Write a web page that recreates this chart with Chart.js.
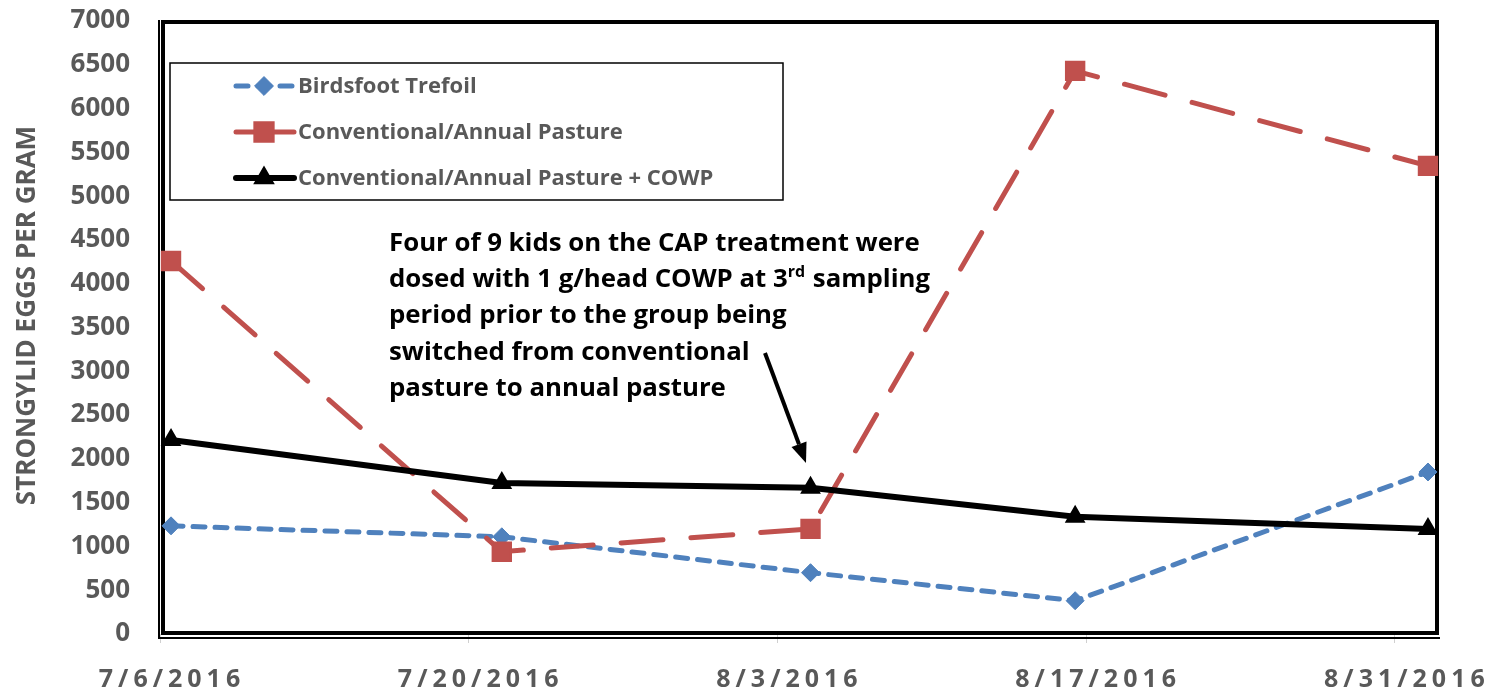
<!DOCTYPE html>
<html><head><meta charset="utf-8">
<script src="https://cdn.jsdelivr.net/npm/chart.js@4/dist/chart.umd.min.js"></script>
<style>html,body{margin:0;padding:0;background:#fff;overflow:hidden}#wrap{width:1492px;height:691px;position:relative}</style>
</head><body><div id="wrap"><canvas id="c" width="1492" height="691"></canvas></div>
<script>
// ---- data ----
const seriesNames = ['Birdsfoot Trefoil', 'Conventional/Annual Pasture', 'Conventional/Annual Pasture + COWP'];
const sampleDates = ['2016-07-06', '2016-07-21', '2016-08-04', '2016-08-16', '2016-09-01'];
const birdsfoot = [1235, 1110, 700, 380, 1850];
const conventional = [4260, 940, 1200, 6430, 5345];
const conventionalCowp = [2215, 1725, 1670, 1340, 1200];
const xTickLabels = ['7/6/2016', '7/20/2016', '8/3/2016', '8/17/2016', '8/31/2016'];
const axisStartDate = '2016-07-06';
const axisDays = 58;
const tickStepDays = 14;
const yTitle = 'STRONGYLID EGGS PER GRAM';
const noteLines = [
  [['Four of 9 kids on the CAP treatment were', false]],
  [['dosed with 1 g/head COWP at 3', false], ['rd', true], [' sampling', false]],
  [['period prior to the group being', false]],
  [['switched from conventional', false]],
  [['pasture to annual pasture', false]]
];

// x position: day offset from axis start, centred in the day
function dayOffset(d) { return (Date.parse(d) - Date.parse(axisStartDate)) / 864e5 + 0.5; }
function pts(vals) { return sampleDates.map((d, i) => ({ x: dayOffset(d), y: vals[i] })); }

const GRAY = '#595959';

const framePlugin = {
  id: 'frame',
  beforeDatasetsDraw(chart) {
    const { ctx, chartArea: a } = chart;
    ctx.save();
    ctx.strokeStyle = '#000';
    ctx.lineWidth = 4;
    ctx.strokeRect(a.left + 3, a.top + 1, a.right - a.left - 5, a.bottom - a.top - 2);
    ctx.lineWidth = 2;
    ctx.beginPath();
    ctx.moveTo(a.left - 1, a.top - 1);
    ctx.lineTo(a.left - 1, a.bottom + 4);
    ctx.lineTo(a.right + 1, a.bottom + 4);
    ctx.stroke();
    ctx.restore();
  }
};

function drawMarker(ctx, ds, x, y, scale) {
  if (Chart.helpers && Chart.helpers.drawPoint) {
    ctx.save();
    ctx.fillStyle = ds.pointBackgroundColor;
    ctx.strokeStyle = ds.pointBorderColor;
    ctx.lineWidth = ds.pointBorderWidth;
    ctx.setLineDash([]);
    Chart.helpers.drawPoint(ctx, { pointStyle: ds.pointStyle, rotation: 0, radius: ds.pointRadius * scale, borderWidth: ds.pointBorderWidth }, x, y);
    ctx.restore();
  }
}

const legendPlugin = {
  id: 'boxLegend',
  afterDatasetsDraw(chart) {
    const { ctx } = chart;
    const box = { x: 170, y: 63, w: 613, h: 137 };
    const rows = [23, 69, 115];
    ctx.save();
    ctx.fillStyle = '#fff';
    ctx.fillRect(box.x, box.y, box.w, box.h);
    ctx.strokeStyle = '#000';
    ctx.lineWidth = 1.5;
    ctx.strokeRect(box.x, box.y, box.w, box.h);
    chart.data.datasets.forEach((ds, i) => {
      const y = box.y + rows[i];
      ctx.save();
      ctx.strokeStyle = ds.borderColor;
      ctx.lineWidth = ds.borderWidth;
      ctx.lineCap = 'round';
      ctx.setLineDash(ds.legendDash || []);
      ctx.beginPath();
      ctx.moveTo(box.x + 66, y);
      ctx.lineTo(box.x + 124, y);
      ctx.stroke();
      ctx.restore();
      drawMarker(ctx, ds, box.x + 94, y, 1.05);
      ctx.fillStyle = GRAY;
      ctx.font = 'bold 22px "Open Sans"';
      ctx.textBaseline = 'middle';
      ctx.textAlign = 'left';
      ctx.fillText(ds.label, box.x + 128, y + 1);
    });
    ctx.restore();
  }
};

const notePlugin = {
  id: 'note',
  afterDatasetsDraw(chart) {
    const { ctx, chartArea: a } = chart;
    const left = a.left + 229, base0 = 251, lh = 36.2;
    ctx.save();
    ctx.fillStyle = '#000';
    ctx.textBaseline = 'alphabetic';
    ctx.textAlign = 'left';
    noteLines.forEach((segs, i) => {
      let x = left;
      const y = base0 + i * lh;
      segs.forEach(([t, sup]) => {
        ctx.font = sup ? 'bold 16px "Open Sans"' : 'bold 25.8px "Open Sans"';
        ctx.fillText(t, x, sup ? y - 10 : y);
        x += ctx.measureText(t).width + (sup ? 1 : 0);
      });
    });
    // arrow
    const x0 = 765, y0 = 353, x1 = 806, y1 = 463;
    const ang = Math.atan2(y1 - y0, x1 - x0);
    const hl = 20, hw = 8;
    ctx.strokeStyle = '#000';
    ctx.lineWidth = 4;
    ctx.beginPath();
    ctx.moveTo(x0, y0);
    ctx.lineTo(x1 - Math.cos(ang) * hl, y1 - Math.sin(ang) * hl);
    ctx.stroke();
    ctx.beginPath();
    ctx.moveTo(x1, y1);
    ctx.lineTo(x1 - Math.cos(ang) * hl - Math.sin(ang) * hw, y1 - Math.sin(ang) * hl + Math.cos(ang) * hw);
    ctx.lineTo(x1 - Math.cos(ang) * hl + Math.sin(ang) * hw, y1 - Math.sin(ang) * hl - Math.cos(ang) * hw);
    ctx.closePath();
    ctx.fillStyle = '#000';
    ctx.fill();
    ctx.restore();
  }
};

// letter-spaced x tick labels (shifted slightly right as in the original); y title nudged upward
function wrapScale(s) {
  if (s._wrapped) return;
  s._wrapped = true;
  if (s.axis === 'x') {
    const orig = s.drawLabels.bind(s);
    s.drawLabels = function (area) {
      const c = this.ctx; c.save();
      if ('letterSpacing' in c) c.letterSpacing = '5px';
      c.translate(12, 2);
      orig(area); c.restore();
    };
  } else {
    const origT = s.drawTitle.bind(s);
    s.drawTitle = function (area) {
      const c = this.ctx; c.save(); c.translate(0, -12); origT(area); c.restore();
    };
  }
}

function build() {
  const ctx = document.getElementById('c').getContext('2d');
  new Chart(ctx, {
    type: 'line',
    data: {
      datasets: [
        {
          label: seriesNames[0], data: pts(birdsfoot),
          borderColor: '#4F81BD', backgroundColor: '#4F81BD', borderWidth: 5,
          borderDash: [12, 10], legendDash: [12, 10], borderCapStyle: 'round',
          pointStyle: 'rectRot', pointRadius: 9, pointBorderWidth: 1,
          pointBackgroundColor: '#4F81BD', pointBorderColor: '#4F81BD',
          tension: 0, order: 3, fill: false
        },
        {
          label: seriesNames[1], data: pts(conventional),
          borderColor: '#C0504D', backgroundColor: '#C0504D', borderWidth: 5,
          borderDash: [42, 28], legendDash: [], borderCapStyle: 'round',
          pointStyle: 'rect', pointRadius: 13, pointBorderWidth: 2,
          pointBackgroundColor: '#C0504D', pointBorderColor: '#C0504D',
          tension: 0, order: 2, fill: false
        },
        {
          label: seriesNames[2], data: pts(conventionalCowp),
          borderColor: '#000000', backgroundColor: '#000000', borderWidth: 6,
          borderDash: [], legendDash: [], borderCapStyle: 'round',
          pointStyle: 'triangle', pointRadius: 10, pointBorderWidth: 2,
          pointBackgroundColor: '#000000', pointBorderColor: '#000000',
          tension: 0, order: 1, fill: false
        }
      ]
    },
    options: {
      responsive: false, animation: false,
      layout: { padding: { left: 0, top: 21, right: 53, bottom: 0 } },
      plugins: { legend: { display: false }, tooltip: { enabled: false } },
      scales: {
        x: {
          type: 'linear', min: 0, max: axisDays,
          afterBuildTicks: s => { s.ticks = xTickLabels.map((_, i) => ({ value: i * tickStepDays })); },
          ticks: {
            callback: v => xTickLabels[Math.round(v / tickStepDays)] ?? '',
            font: { family: 'Open Sans', weight: 'bold', size: 25 }, color: GRAY,
            padding: 20, maxRotation: 0, autoSkip: false
          },
          grid: { drawOnChartArea: false, drawTicks: true, tickLength: 9, color: '#d0d0d0', lineWidth: 1 },
          border: { display: false },
          afterFit: s => { s.height = 57; },
          afterUpdate: wrapScale
        },
        y: {
          min: 0, max: 7000,
          ticks: {
            stepSize: 500, callback: v => String(v),
            font: { family: 'Open Sans', weight: 'bold', size: 26 }, color: GRAY, padding: 30
          },
          grid: { display: false, drawTicks: false },
          border: { display: false },
          title: {
            display: true, text: yTitle, color: GRAY,
            font: { family: 'Open Sans', weight: 'bold', size: 26 },
            padding: { top: 12, bottom: 0 }
          },
          afterFit: s => { s.width = 160; s.paddingTop = 0; s.paddingBottom = 0; },
          afterUpdate: wrapScale
        }
      }
    },
    plugins: [framePlugin, legendPlugin, notePlugin]
  });
}

const fontLoads = document.fonts ? Promise.all([
  document.fonts.load('bold 24px "Open Sans"')
]).catch(() => {}) : Promise.resolve();
fontLoads.then(build, build);
</script>
</body></html>
